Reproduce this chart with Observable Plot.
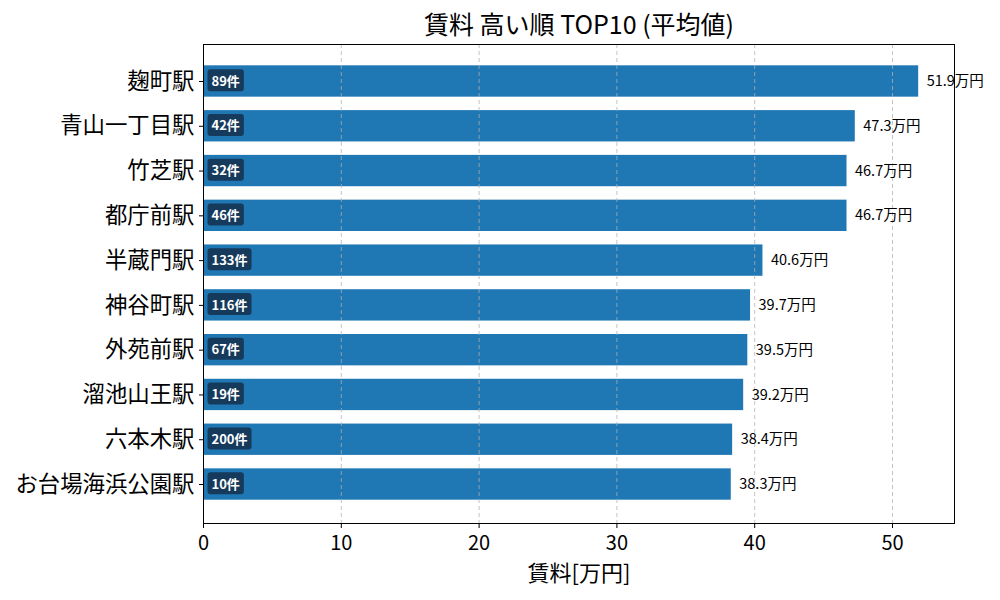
<!DOCTYPE html>
<html>
<head>
<meta charset="utf-8">
<script src="https://cdn.jsdelivr.net/npm/d3@7"></script>
<script src="https://cdn.jsdelivr.net/npm/@observablehq/plot@0.6"></script>
<style>
  html, body { margin: 0; padding: 0; background: #fff; }
  #chart svg { display: block; }
</style>
</head>
<body>
<div id="chart"></div>
<script>
const stations = ["麹町駅", "青山一丁目駅", "竹芝駅", "都庁前駅", "半蔵門駅", "神谷町駅", "外苑前駅", "溜池山王駅", "六本木駅", "お台場海浜公園駅"];
const rents = [51.9, 47.3, 46.7, 46.7, 40.6, 39.7, 39.5, 39.2, 38.4, 38.3];
const counts = [89, 42, 32, 46, 133, 116, 67, 19, 200, 10];
const xTicks = [0, 10, 20, 30, 40, 50];
const titleText = "賃料 高い順 TOP10 (平均値)";
const xLabel = "賃料[万円]";

const data = stations.map((s, i) => ({ station: s, rent: rents[i], count: counts[i] }));
const font = "'Noto Sans CJK JP', 'Noto Sans', sans-serif";

const chart = Plot.plot({
  width: 1000,
  height: 600,
  marginLeft: 203,
  marginRight: 46,
  marginTop: 44,
  marginBottom: 77,
  style: { fontFamily: font, background: "white", color: "black" },
  x: { domain: [0, 54.5] },
  y: { domain: stations, range: [58.6, 506.4], paddingInner: 0.3, paddingOuter: 0.15, round: false },
  marks: [
    Plot.barX(data, { x: "rent", y: "station", fill: "#1f77b4" }),
    Plot.gridX(xTicks, { stroke: "#b0b0b0", strokeOpacity: 0.75, strokeDasharray: "4,3", strokeWidth: 1 }),
    Plot.frame({ stroke: "black", strokeWidth: 1 }),
    Plot.axisY({ fontSize: 22.4, tickSize: 4, tickPadding: 5, label: null, color: "black" }),
    Plot.axisX({ ticks: xTicks, fontSize: 20, tickSize: 5, tickPadding: 7, label: null, color: "black" }),
    Plot.text([xLabel], { frameAnchor: "bottom", lineAnchor: "middle", text: d => d, dy: 50, fontSize: 22, fill: "black" }),
    Plot.text(data, { x: 0, y: "station", text: d => d.count + "件", dx: 8, textAnchor: "start", fill: "white", fontWeight: "bold", fontSize: 13 }),
    Plot.text(data, { x: "rent", y: "station", text: d => d.rent.toFixed(1) + "万円", dx: 8, textAnchor: "start", fill: "black", fontSize: 14.5 }),
    Plot.text([titleText], { frameAnchor: "top", lineAnchor: "middle", text: d => d, dy: -19, fontSize: 25, fill: "black" })
  ]
});

document.getElementById("chart").appendChild(chart);

// rounded dark boxes behind the count labels
const svgNS = "http://www.w3.org/2000/svg";
Array.from(chart.querySelectorAll("text"))
  .filter(t => /^\d+件$/.test(t.textContent.trim()))
  .forEach(t => {
    let b;
    try { b = t.getBBox(); } catch (e) { return; }
    const r = document.createElementNS(svgNS, "rect");
    r.setAttribute("x", b.x - 4);
    r.setAttribute("y", b.y - 1.5);
    r.setAttribute("width", b.width + 8);
    r.setAttribute("height", b.height + 3);
    r.setAttribute("rx", 3);
    r.setAttribute("fill", "#153a5b");
    r.setAttribute("stroke", "none");
    const tr = t.getAttribute("transform");
    if (tr) r.setAttribute("transform", tr);
    t.parentNode.insertBefore(r, t);
  });
</script>
</body>
</html>
